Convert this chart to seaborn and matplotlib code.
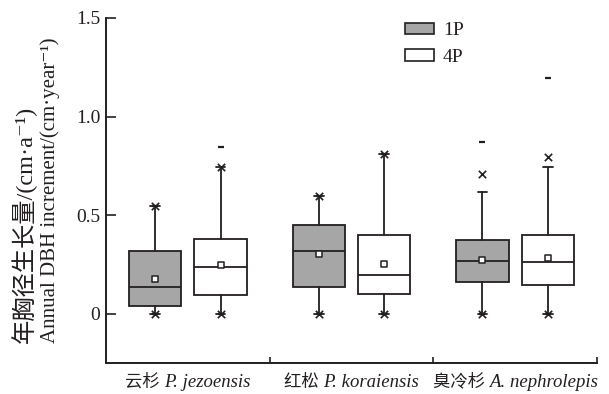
import numpy as np
import matplotlib
matplotlib.use("Agg")
import matplotlib.pyplot as plt
from matplotlib.patches import Patch
from matplotlib.offsetbox import TextArea, HPacker, AnnotationBbox
import seaborn as sns

# summary statistics (cm/year)
species_cn = ["云杉", "红松", "臭冷杉"]
species_lat = ["P. jezoensis", "P. koraiensis", "A. nephrolepis"]
groups = ["1P", "4P"]

q1 = [[0.04, 0.095], [0.135, 0.10], [0.162, 0.147]]
med = [[0.133, 0.238], [0.32, 0.197], [0.265, 0.26]]
q3 = [[0.32, 0.381], [0.451, 0.397], [0.373, 0.398]]
mean = [[0.177, 0.245], [0.305, 0.253], [0.273, 0.285]]
whis_lo = [[0.0, 0.0], [0.0, 0.0], [0.0, 0.0]]
whis_hi = [[0.548, 0.746], [0.596, 0.812], [0.618, 0.746]]
p1 = [[0.0, 0.0], [0.0, 0.0], [0.0, 0.0]]
p99 = [[0.548, 0.746], [0.596, 0.812], [0.707, 0.797]]
vmin = [[0.0, 0.0], [0.0, 0.0], [0.0, 0.0]]
vmax = [[0.548, 0.847], [0.596, 0.812], [0.873, 1.196]]

ytick_vals = [0, 0.5, 1.0, 1.5]
ytick_labels = ["0", "0.5", "1.0", "1.5"]

sns.set_theme(style="ticks")
plt.rcParams['font.family'] = ['Liberation Serif', 'Noto Sans CJK SC', 'DejaVu Serif']
plt.rcParams['axes.unicode_minus'] = False

dark = "#231f20"
fills = {"1P": "#a6a6a6", "4P": "white"}

fig = plt.figure(figsize=(6.09, 3.94), dpi=100)
ax = fig.add_axes([106 / 609, 1 - 363 / 394, 491 / 609, 345 / 394])

offsets = {"1P": -0.2, "4P": 0.2}
px, pm, p_lo, p_hi, mn, mx = [], [], [], [], [], []
for i in range(len(species_cn)):
    for j, g in enumerate(groups):
        pos = i + 0.5 + offsets[g]
        st = dict(q1=q1[i][j], med=med[i][j], q3=q3[i][j],
                  whislo=whis_lo[i][j], whishi=whis_hi[i][j], fliers=[])
        ax.bxp([st], positions=[pos], widths=0.32, showfliers=False,
               patch_artist=True, capwidths=0.06,
               boxprops=dict(facecolor=fills[g], edgecolor=dark, linewidth=1.3),
               medianprops=dict(color=dark, linewidth=1.3),
               whiskerprops=dict(color=dark, linewidth=1.3),
               capprops=dict(color=dark, linewidth=1.3))
        px.append(pos)
        pm.append(mean[i][j])
        p_lo.append(p1[i][j])
        p_hi.append(p99[i][j])
        mn.append(vmin[i][j])
        mx.append(vmax[i][j])

# mean squares, 1%/99% crosses and min/max dashes
sns.scatterplot(x=px, y=pm, marker="s", s=14, facecolor="white",
                edgecolor=dark, linewidth=1.1, ax=ax, zorder=5)
sns.scatterplot(x=px + px, y=p_lo + p_hi, marker="x", s=28, color=dark,
                linewidth=1.2, ax=ax, zorder=5)
sns.scatterplot(x=px + px, y=mn + mx, marker="_", s=18, color=dark,
                linewidth=1.6, ax=ax, zorder=5)

ax.set_xlim(0, 3)
ax.set_ylim(-0.25, 1.5)
ax.set_yticks(ytick_vals)
ax.set_yticklabels(ytick_labels, fontsize=14)
ax.set_xticks([0.5, 1.5, 2.5])
ax.set_xticklabels(["", "", ""])
ax.set_xticks([1, 2, 3], minor=True)
ax.tick_params(axis="x", which="major", length=0)
ax.tick_params(axis="x", which="minor", direction="in", length=4, width=1.2, color=dark)
ax.tick_params(axis="y", direction="in", length=7, width=1.2, color=dark,
               labelcolor=dark, pad=4)
for side in ["top", "right"]:
    ax.spines[side].set_visible(False)
for side in ["left", "bottom"]:
    ax.spines[side].set_color(dark)
    ax.spines[side].set_linewidth(1.4)
ax.set_xlabel("")
ax.set_ylabel("")

# category labels: Chinese name + italic latin name
for i in range(len(species_cn)):
    t1 = TextArea(species_cn[i] + " ", textprops=dict(
        family=['Noto Sans CJK SC'], fontsize=12.5, color=dark))
    t2 = TextArea(species_lat[i], textprops=dict(
        family=['Liberation Serif'], style="italic", fontsize=13.5, color=dark))
    box = HPacker(children=[t1, t2], align="baseline", pad=0, sep=0)
    ab = AnnotationBbox(box, (i + 0.5, 0), xycoords=("data", "axes fraction"),
                        xybox=(0, -7), boxcoords="offset points",
                        box_alignment=(0.5, 1), frameon=False)
    ax.add_artist(ab)

# y label, two lines
fig.text(24 / 609, 1 - 343 / 394, "年胸径生长量/(cm·a⁻¹)", rotation=90,
         ha="center", va="bottom", fontsize=17.5, color=dark)
fig.text(50 / 609, 1 - 343 / 394, "Annual DBH increment/(cm·year⁻¹)", rotation=90,
         ha="center", va="bottom", fontsize=15, color=dark)

handles = [Patch(facecolor=fills[g], edgecolor=dark, linewidth=1.2, label=g) for g in groups]
ax.legend(handles=handles, loc="upper left", bbox_to_anchor=(0.609, 0.988),
          frameon=False, fontsize=14, handlelength=1.5, handleheight=0.5,
          handletextpad=0.45, labelspacing=0.5, borderpad=0, borderaxespad=0,
          labelcolor=dark)

fig.savefig("out.png", dpi=100)
